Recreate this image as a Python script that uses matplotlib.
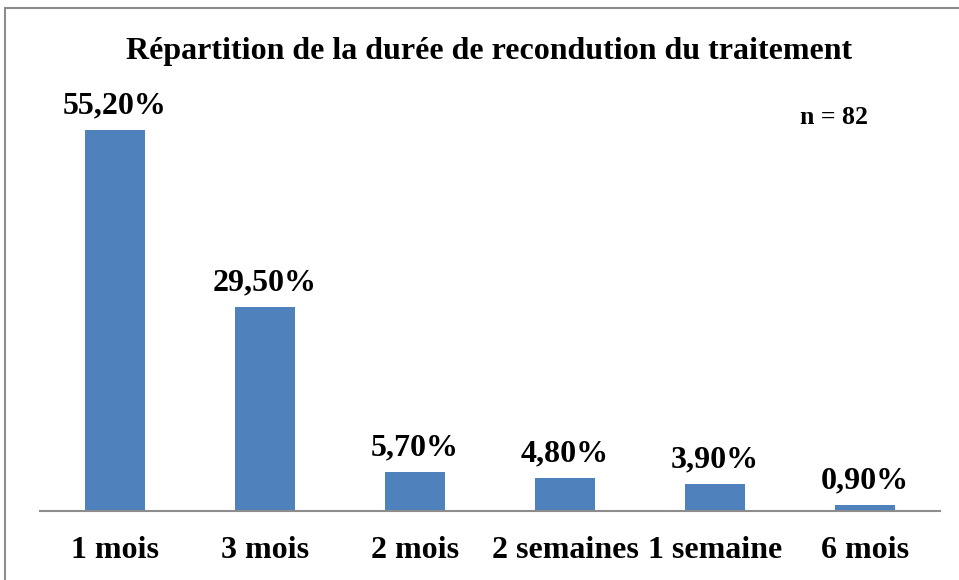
import matplotlib.pyplot as plt
from matplotlib.patches import Rectangle

categories = ['1 mois', '3 mois', '2 mois', '2 semaines', '1 semaine', '6 mois']
values = [55.2, 29.5, 5.7, 4.8, 3.9, 0.9]
labels = ['55,20%', '29,50%', '5,70%', '4,80%', '3,90%', '0,90%']

plt.rcParams['font.family'] = ['Liberation Serif', 'DejaVu Serif']

W, H = 959, 580
fig = plt.figure(figsize=(W / 100, H / 100), dpi=100)

# outer frame of the chart (cut at right and bottom)
fig.patches.append(Rectangle((5 / W, -0.05), 1.2, (H - 8) / H + 0.05,
                             transform=fig.transFigure, fill=False,
                             edgecolor='#8c8c8c', linewidth=1.5))

ax = fig.add_axes([40 / W, (H - 511) / H, 900 / W, 414 / H])
x = range(len(categories))
ax.bar(x, values, width=0.4, color='#4F81BD')
ax.set_xlim(-0.5, len(categories) - 0.5)
ax.set_ylim(0, 60)

for i, (v, lab) in enumerate(zip(values, labels)):
    ax.annotate(lab, (i, v), xytext=(0, 7), textcoords='offset points',
                ha='center', va='bottom', fontsize=23, fontweight='bold')

ax.set_xticks(list(x))
ax.set_xticklabels(categories, fontsize=23, fontweight='bold')
ax.tick_params(axis='x', length=0, pad=18)
ax.set_yticks([])
for s in ['left', 'right', 'top']:
    ax.spines[s].set_visible(False)
ax.spines['bottom'].set_color('#8c8c8c')
ax.spines['bottom'].set_linewidth(1.5)

fig.text(489 / W, 1 - 51 / H, 'Répartition de la durée de recondution du traitement',
         ha='center', va='center', fontsize=23, fontweight='bold')
fig.text(834 / W, 1 - 118 / H, 'n = 82', ha='center', va='center',
         fontsize=18.5, fontweight='bold')

fig.savefig('out.png', dpi=100)
